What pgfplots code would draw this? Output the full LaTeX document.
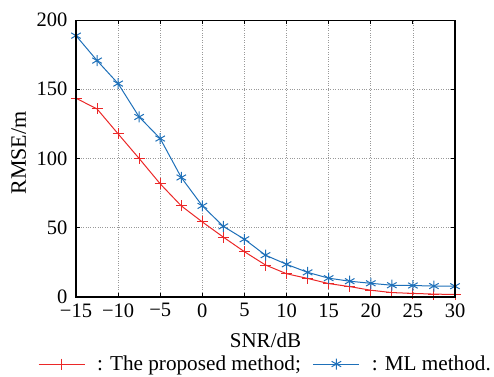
\documentclass[border=0pt]{standalone}
\usepackage{fontspec}
\setmainfont{Liberation Serif}
\usepackage{pgfplots}
\pgfplotsset{compat=1.18}
\definecolor{myred}{RGB}{235,40,40}
\definecolor{myblue}{RGB}{30,112,185}
\begin{document}
\begin{tikzpicture}
\useasboundingbox (0pt,0pt) rectangle (494pt,376pt);
\begin{axis}[
  name=ax,
  at={(76pt,79pt)}, anchor=south west,
  scale only axis,
  width=379pt, height=277pt,
  xmin=-15, xmax=30, ymin=0, ymax=200,
  xtick={-15,-10,...,30},
  xticklabels={−15,−10,−5,0,5,10,15,20,25,30},
  ytick={0,50,100,150,200},
  yticklabels={0,50,100,150,200},
  tick align=inside,
  major tick length=4pt,
  grid=major,
  major grid style={dotted, gray!80, line width=0.7pt},
  axis line style={line width=1pt},
  every tick/.style={black, line width=0.9pt},
  xlabel={SNR/dB}, ylabel={RMSE/m},
  xlabel style={at={(axis description cs:0.5,-0.155)}, anchor=center, font=\fontsize{21}{24}\selectfont},
  ylabel style={at={(axis description cs:-0.151,0.52)}, anchor=center, font=\fontsize{22}{25}\selectfont},
  xticklabel style={font=\fontsize{20.5}{24}\selectfont, yshift=-3pt},
  yticklabel style={font=\fontsize{20.5}{24}\selectfont, xshift=-5pt},
  legend columns=2,
  legend style={at={(axis description cs:0.5,-0.242)}, anchor=center, draw=none, fill=none,
    inner sep=0pt,
    font=\fontsize{21.2}{24}\selectfont,
    /tikz/every odd column/.append style={column sep=10pt},
    /tikz/every even column/.append style={column sep=10pt}},
  legend image code/.code={
    \draw[mark repeat=2, mark phase=2, #1] plot coordinates {(0pt,0pt) (23pt,0pt) (46pt,0pt)};
  },
]
\addplot[color=myred, line width=1pt, mark=+, mark size=5.5pt] coordinates {
(-15,143.5) (-12.5,135.8) (-10,117.8) (-7.5,100) (-5,81.7) (-2.5,65.8)
(0,54.2) (2.5,43.2) (5,32.7) (7.5,23.1) (10,16.8) (12.5,13.4) (15,9.7)
(17.5,7.5) (20,4.9) (22.5,3.2) (25,2.6) (27.5,2.1) (30,1.8)};
\addlegendentry{: The proposed method;}
\addplot[color=myblue, line width=1pt, mark=asterisk, mark size=5.5pt] coordinates {
(-15,188.7) (-12.5,170.7) (-10,154.1) (-7.5,130) (-5,114.4) (-2.5,86.3)
(0,65.8) (2.5,51) (5,41.7) (7.5,30.2) (10,23.6) (12.5,17.8) (15,13.6)
(17.5,11.4) (20,9.9) (22.5,8.5) (25,8.3) (27.5,7.9) (30,7.8)};
\addlegendentry{: ML method.}
\end{axis}
\draw[line width=1.6pt, black] (ax.north west) -- (ax.south west) -- (ax.south east) -- (ax.north east);
\end{tikzpicture}
\end{document}
